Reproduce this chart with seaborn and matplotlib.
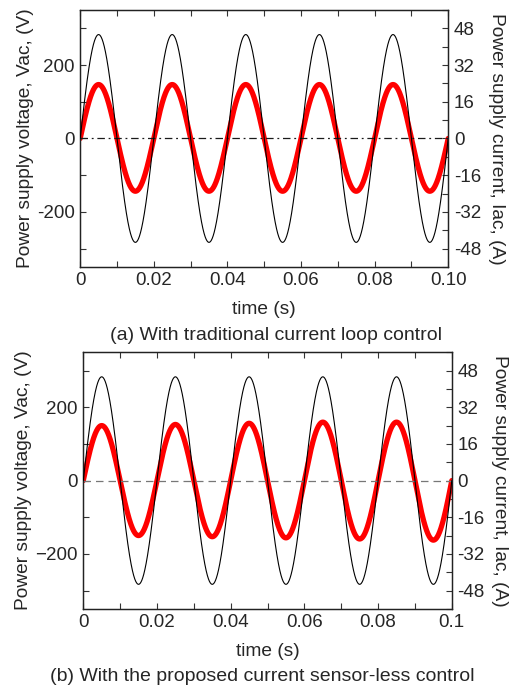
import numpy as np
import pandas as pd
import matplotlib
matplotlib.use("Agg")
import matplotlib.pyplot as plt
import seaborn as sns
from matplotlib.ticker import MultipleLocator

sns.set_theme(style="ticks")
plt.rcParams['font.family'] = ['Liberation Sans', 'DejaVu Sans']
plt.rcParams['axes.unicode_minus'] = False

freq = 50
v_peaks_a = [283, 283, 283, 283, 283, 283, 283, 283, 283, 283]
i_peaks_a = [23.5, 23.0, 23.5, 23.0, 23.5, 23.0, 23.5, 23.0, 23.5, 23.0]
v_peaks_b = [283, 283, 283, 283, 283, 283, 283, 283, 283, 283]
i_peaks_b = [24.0, 24.0, 24.5, 24.5, 25.0, 25.0, 25.5, 25.5, 25.5, 26.0]

xticks = [0, 0.02, 0.04, 0.06, 0.08, 0.10]
xlabels_a = ['0', '0.02', '0.04', '0.06', '0.08', '0.10']
xlabels_b = ['0', '0.02', '0.04', '0.06', '0.08', '0.1']
vticks = [-200, 0, 200]
vlabels_a = ['-200', '0', '200']
vlabels_b = ['\u2212200', '0', '200']
iticks = [-48, -32, -16, 0, 16, 32, 48]
ilabels = ['-48', '-32', '-16', '0', '16', '32', '48']
captions = ['(a) With traditional current loop control',
            '(b) With the proposed current sensor-less control']


def wave(peaks, t):
    # sinusoid whose amplitude follows the half-cycle peaks above
    idx = np.minimum((t * 2 * freq).astype(int), len(peaks) - 1)
    return np.array(peaks)[idx] * np.sin(2 * np.pi * freq * t)


t = np.linspace(0, 0.1, 4001)

fig = plt.figure(figsize=(5.14, 6.88), dpi=100)
positions = [[0.156, 0.612, 0.716, 0.3735], [0.162, 0.115, 0.717, 0.373]]
panels = [(v_peaks_a, i_peaks_a, xlabels_a, vlabels_a, 'k', (0, (6, 3, 1.5, 3))),
          (v_peaks_b, i_peaks_b, xlabels_b, vlabels_b, '#777777', (0, (6, 4)))]
caption_y = [0.513, 0.017]
caption_x = [0.536, 0.51]

for k, (vp, ip, xl, vl, zc, zls) in enumerate(panels):
    df = pd.DataFrame({'t': t, 'v': wave(vp, t), 'i': wave(ip, t)})
    ax = fig.add_axes(positions[k])
    ax2 = ax.twinx()
    ax.axhline(0, color=zc, lw=0.9, ls=zls, zorder=1)
    sns.lineplot(data=df, x='t', y='v', ax=ax, color='black', lw=0.8, zorder=3)
    sns.lineplot(data=df, x='t', y='i', ax=ax2, color='#ff0000', lw=3.8, zorder=2)
    ax.set_zorder(ax2.get_zorder() + 1)
    ax.patch.set_visible(False)

    ax.set_xlim(0, 0.1)
    ax.set_ylim(-350, 350)
    ax2.set_ylim(-56, 56)
    ax.set_xticks(xticks)
    ax.set_xticklabels(xl)
    ax.xaxis.set_minor_locator(MultipleLocator(0.01))
    ax.set_yticks(vticks)
    ax.set_yticklabels(vl)
    ax.yaxis.set_minor_locator(MultipleLocator(100))
    ax2.set_yticks(iticks)
    ax2.set_yticklabels(ilabels)
    ax2.yaxis.set_minor_locator(MultipleLocator(8))

    for a in (ax, ax2):
        a.tick_params(which='both', direction='in', labelsize=13.5, width=0.8,
                      top=True, color='#333333', pad=4)
        a.tick_params(which='major', length=4)
        a.tick_params(which='minor', length=4)
        for s in a.spines.values():
            s.set_linewidth(0.9)
            s.set_color('#222222')
    ax.tick_params(axis='y', which='both', right=False)
    ax2.tick_params(axis='y', which='both', left=False)

    ax.set_xlabel('time (s)', fontsize=13.8, labelpad=8)
    ax.set_ylabel('Power supply voltage, Vac, (V)', fontsize=13.8, labelpad=2)
    ax2.set_ylabel('Power supply current, Iac, (A)', fontsize=13.8, rotation=-90,
                   labelpad=17)
    fig.text(caption_x[k], caption_y[k], captions[k], ha='center', va='center',
             fontsize=14)

fig.savefig('out.png', dpi=100)
